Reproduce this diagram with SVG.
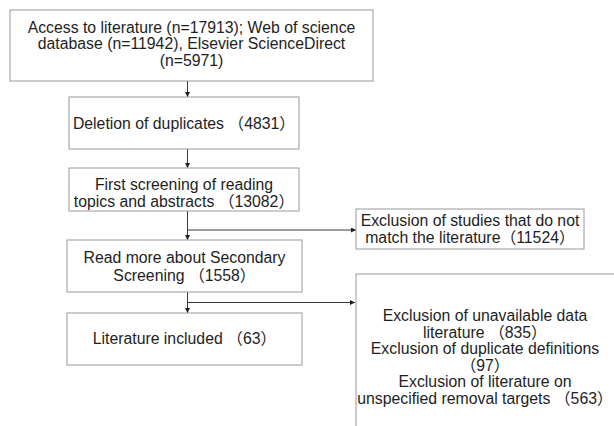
<svg xmlns="http://www.w3.org/2000/svg" width="614" height="426" viewBox="0 0 614 426">
<defs>
<style>
.box{fill:#fff;stroke:#9a9a9a;stroke-width:1}
.t{font-family:"Liberation Sans","Noto Sans CJK SC",Arial,sans-serif;font-size:15.8px;fill:#1e1e1e;text-anchor:middle}
.c{fill:none;stroke:#3a3a3a;stroke-width:1}
</style>
<marker id="ah" viewBox="0 0 10 10" refX="10" refY="5" markerWidth="5" markerHeight="5" orient="auto" markerUnits="userSpaceOnUse">
<path d="M0,0 L10,5 L0,10 z" fill="#1e1e1e"/>
</marker>
</defs>
<rect width="614" height="426" fill="#fff"/>
<g id="connectors">
<line class="c" x1="187.5" y1="81" x2="187.5" y2="97" marker-end="url(#ah)"/>
<line class="c" x1="187.5" y1="149" x2="187.5" y2="168" marker-end="url(#ah)"/>
<line class="c" x1="187.5" y1="211" x2="187.5" y2="240" marker-end="url(#ah)"/>
<line class="c" x1="187.5" y1="230" x2="356" y2="230" marker-end="url(#ah)"/>
<line class="c" x1="187.5" y1="292" x2="187.5" y2="313" marker-end="url(#ah)"/>
<line class="c" x1="187.5" y1="302.5" x2="355" y2="302.5" marker-end="url(#ah)"/>
</g>
<g id="n1">
<rect class="box" x="10" y="10" width="363" height="71"/>
<text class="t" x="191.5" y="32.5">Access to literature (n=17913); Web of science</text>
<text class="t" x="191.5" y="49">database (n=11942), Elsevier ScienceDirect</text>
<text class="t" x="191.5" y="65.5">(n=5971)</text>
</g>
<g id="n2">
<rect class="box" x="69" y="97" width="230" height="52"/>
<text class="t" x="184" y="128.5">Deletion of duplicates （4831）</text>
</g>
<g id="n3">
<rect class="box" x="69" y="168" width="230" height="43"/>
<text class="t" x="184" y="189.5">First screening of reading</text>
<text class="t" x="184" y="206.5">topics and abstracts （13082）</text>
</g>
<g id="n4">
<rect class="box" x="356" y="209" width="228" height="40"/>
<text class="t" x="470" y="226">Exclusion of studies that do not</text>
<text class="t" x="470" y="243">match the literature（11524）</text>
</g>
<g id="n5">
<rect class="box" x="67" y="240" width="235" height="52"/>
<text class="t" x="184.5" y="263">Read more about Secondary</text>
<text class="t" x="184.5" y="280.5">Screening （1558）</text>
</g>
<g id="n6">
<rect class="box" x="67" y="313" width="235" height="52"/>
<text class="t" x="184.5" y="343.5">Literature included （63）</text>
</g>
<g id="n7">
<rect class="box" x="356" y="274" width="300" height="200"/>
<text class="t" x="485" y="321">Exclusion of unavailable data</text>
<text class="t" x="485" y="337.5">literature （835）</text>
<text class="t" x="485" y="354">Exclusion of duplicate definitions</text>
<text class="t" x="485" y="370.5">（97）</text>
<text class="t" x="485" y="387">Exclusion of literature on</text>
<text class="t" x="485" y="403.5">unspecified removal targets （563）</text>
</g>
</svg>
